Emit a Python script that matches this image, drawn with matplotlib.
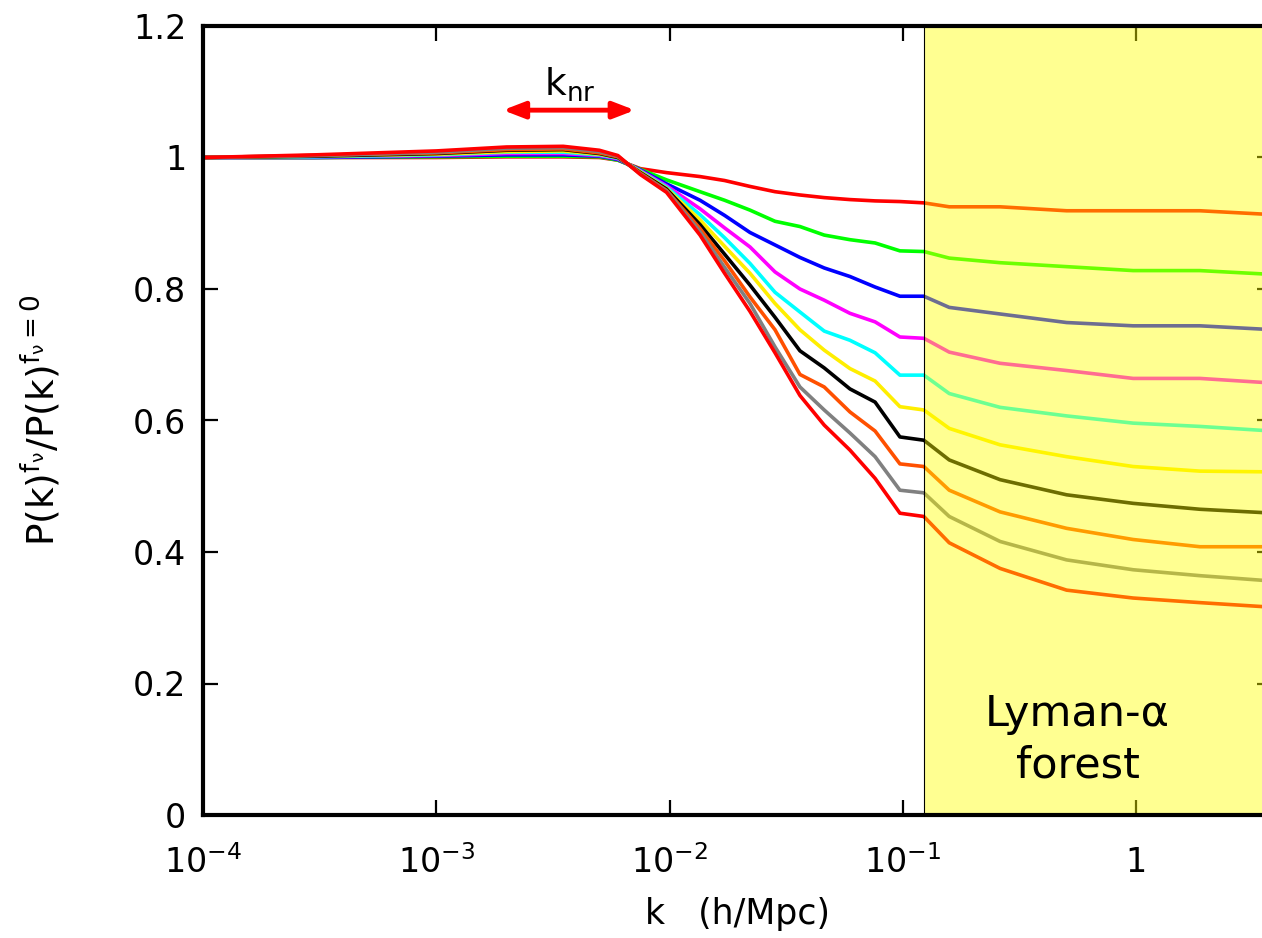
import matplotlib
matplotlib.use('Agg')
import matplotlib.pyplot as plt

plt.rcParams['font.family'] = ['DejaVu Sans']

# k grid (h/Mpc) and the ten ratio curves
k = [1e-4, 3e-4, 1e-3, 2e-3, 3.5e-3, 5e-3, 6e-3, 7.5e-3, 9.7e-3, 0.0135, 0.0172,
     0.0221, 0.0283, 0.0362, 0.046, 0.0593, 0.076, 0.0971, 0.123, 0.158, 0.261,
     0.503, 0.97, 1.875, 3.46, 4.2]

ratio_red_top = [1.0, 1.0, 1.0, 1.001, 1.001, 1.0, 0.996, 0.983, 0.977, 0.971, 0.965,
                 0.956, 0.948, 0.943, 0.939, 0.936, 0.934, 0.933, 0.931, 0.925, 0.925,
                 0.919, 0.919, 0.919, 0.914, 0.914]
ratio_green = [1.0, 1.0, 1.001, 1.002, 1.002, 1.001, 0.996, 0.982, 0.966, 0.948, 0.935,
               0.920, 0.903, 0.895, 0.882, 0.875, 0.870, 0.858, 0.857, 0.847, 0.840,
               0.834, 0.828, 0.828, 0.823, 0.823]
ratio_blue = [1.0, 1.0, 1.002, 1.004, 1.004, 1.002, 0.997, 0.981, 0.960, 0.935, 0.912,
              0.886, 0.867, 0.848, 0.832, 0.819, 0.803, 0.789, 0.789, 0.772, 0.762,
              0.749, 0.744, 0.744, 0.739, 0.739]
ratio_magenta = [1.0, 1.001, 1.003, 1.006, 1.006, 1.003, 0.998, 0.980, 0.957, 0.922, 0.893,
                 0.864, 0.826, 0.800, 0.783, 0.763, 0.750, 0.727, 0.725, 0.704, 0.687,
                 0.676, 0.664, 0.664, 0.658, 0.658]
ratio_cyan = [1.0, 1.001, 1.004, 1.008, 1.008, 1.004, 0.999, 0.979, 0.955, 0.913, 0.878,
              0.839, 0.795, 0.765, 0.736, 0.722, 0.703, 0.669, 0.669, 0.641, 0.620,
              0.607, 0.596, 0.591, 0.585, 0.585]
ratio_yellow = [1.0, 1.002, 1.005, 1.009, 1.010, 1.005, 1.0, 0.978, 0.953, 0.905, 0.865,
                0.824, 0.778, 0.738, 0.707, 0.679, 0.660, 0.621, 0.616, 0.588, 0.563,
                0.545, 0.530, 0.523, 0.522, 0.522]
ratio_black = [1.0, 1.002, 1.006, 1.011, 1.012, 1.006, 1.0, 0.977, 0.952, 0.898, 0.853,
               0.806, 0.757, 0.706, 0.680, 0.648, 0.628, 0.575, 0.570, 0.540, 0.510,
               0.487, 0.474, 0.465, 0.460, 0.460]
ratio_orange = [1.0, 1.003, 1.007, 1.012, 1.013, 1.007, 1.001, 0.976, 0.950, 0.892, 0.843,
                0.788, 0.738, 0.670, 0.651, 0.613, 0.584, 0.534, 0.530, 0.494, 0.461,
                0.436, 0.419, 0.408, 0.408, 0.408]
ratio_gray = [1.0, 1.003, 1.008, 1.014, 1.015, 1.009, 1.002, 0.975, 0.949, 0.887, 0.833,
              0.778, 0.712, 0.651, 0.616, 0.581, 0.545, 0.494, 0.490, 0.454, 0.416,
              0.388, 0.373, 0.364, 0.357, 0.357]
ratio_red_bottom = [1.0, 1.004, 1.010, 1.016, 1.017, 1.011, 1.003, 0.974, 0.947, 0.882, 0.824,
                    0.766, 0.703, 0.638, 0.593, 0.555, 0.512, 0.459, 0.454, 0.414, 0.375,
                    0.342, 0.330, 0.323, 0.317, 0.317]

curves = [ratio_red_top, ratio_green, ratio_blue, ratio_magenta, ratio_cyan,
          ratio_yellow, ratio_black, ratio_orange, ratio_gray, ratio_red_bottom]
colors = ['#ff0000', '#00ff00', '#0000ff', '#ff00ff', '#00ffff',
          '#ffee00', '#000000', '#ff5000', '#808080', '#ff0000']

lyman_kmin = 0.123
knr_range = [1.93e-3, 7.1e-3]

xticks = [1e-4, 1e-3, 1e-2, 1e-1, 1]
xlabels = [r'$\mathregular{10^{-4}}$', r'$\mathregular{10^{-3}}$', r'$\mathregular{10^{-2}}$',
           r'$\mathregular{10^{-1}}$', '1']
yticks = [0, 0.2, 0.4, 0.6, 0.8, 1, 1.2]
ylabels = ['0', '0.2', '0.4', '0.6', '0.8', '1', '1.2']

fig = plt.figure(figsize=(12.62, 9.38), dpi=100)
ax = fig.add_axes([203 / 1262, 123 / 938, (1272 - 203) / 1262, (815 - 26) / 938])

for vals, c in zip(curves, colors):
    ax.plot(k, vals, color=c, lw=2.6, zorder=2)

# Lyman-alpha window: translucent yellow laid over the curves
ax.axvspan(lyman_kmin, 10, color='#ffff00', alpha=0.43, lw=0, zorder=3)
ax.axvline(lyman_kmin, color='black', lw=0.8, zorder=4)
ax.text(0.56, 0.114, 'Lyman-\u03b1\nforest', fontsize=31,
        ha='center', va='center', linespacing=1.3, zorder=5)

# k_nr arrow
ax.annotate('', xy=(knr_range[0], 1.072), xytext=(knr_range[1], 1.072),
            arrowprops=dict(arrowstyle='<|-|>,head_length=1.3,head_width=0.5',
                            color='#ff0000', lw=3.5, shrinkA=0, shrinkB=0))
ax.text(3.75e-3, 1.082, r'$\mathregular{k_{nr}}$', fontsize=27, ha='center', va='bottom')

ax.set_xscale('log')
ax.set_xlim(1e-4, 3.82)
ax.set_ylim(0, 1.2)
ax.set_xticks(xticks, xlabels)
ax.set_yticks(yticks, ylabels)
ax.xaxis.set_minor_locator(plt.NullLocator())
ax.tick_params(direction='in', length=11, width=1.6, labelsize=24,
               top=True, right=True)
ax.tick_params(axis='x', pad=22)
ax.tick_params(axis='y', pad=12)

for s in ax.spines.values():
    s.set_linewidth(3)
    s.set_zorder(4)

ax.set_xlabel('k   (h/Mpc)', fontsize=25, labelpad=12)
ax.set_ylabel(r'$\mathregular{P(k)^{f_\nu} / P(k)^{f_\nu=0}}$', fontsize=27, labelpad=50)

fig.savefig('out.png', dpi=100)
